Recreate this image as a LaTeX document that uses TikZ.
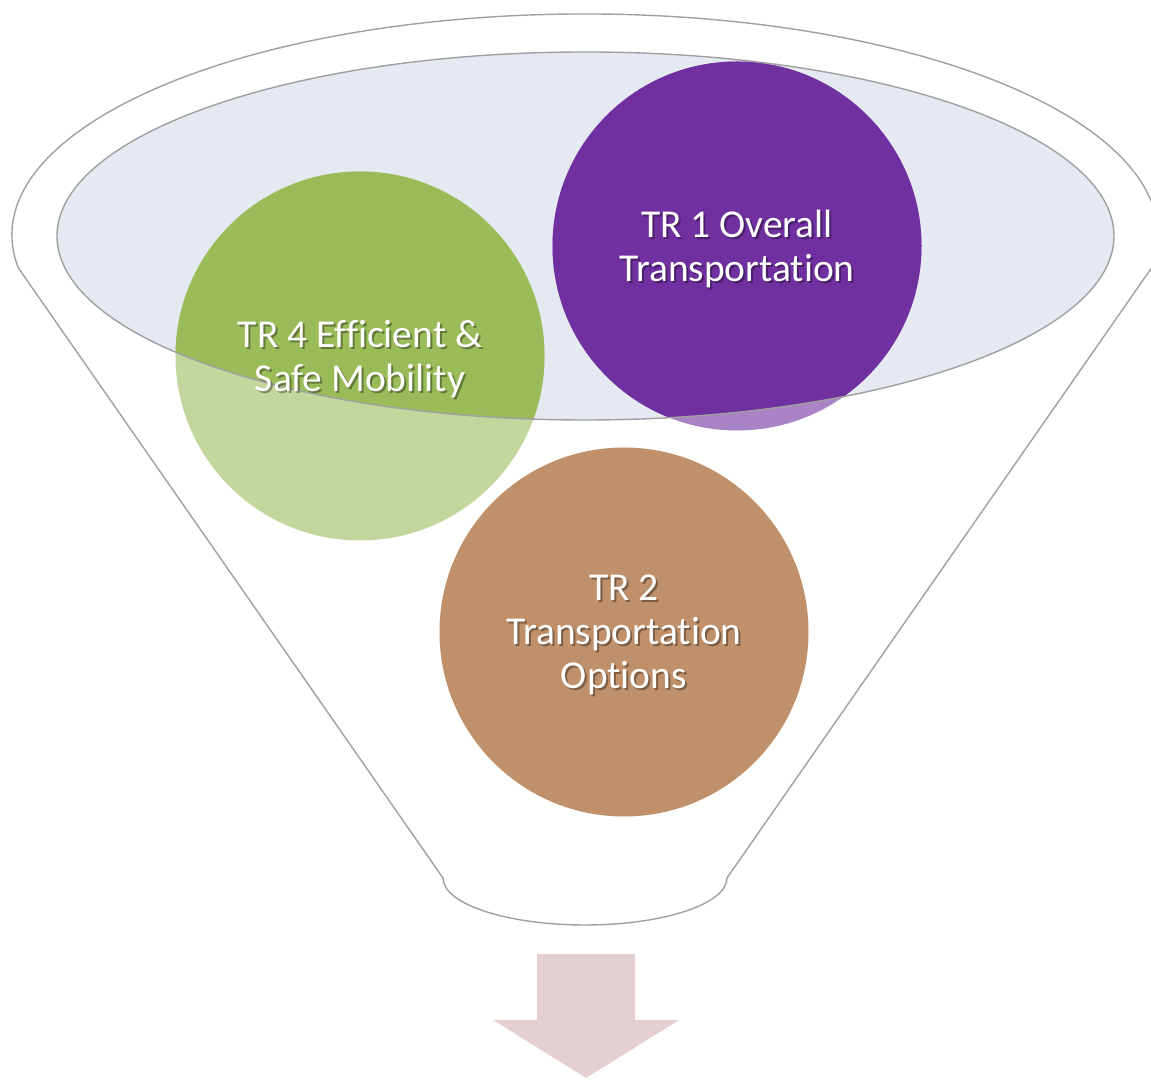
\documentclass[tikz,border=0pt]{standalone}
\usepackage{fontspec}
\setmainfont[Ligatures={NoCommon}]{Carlito}
\definecolor{fgreen}{RGB}{155,187,89}
\definecolor{fpurple}{RGB}{112,48,160}
\definecolor{fbrown}{RGB}{192,144,106}
\definecolor{fbowl}{RGB}{228,233,242}
\definecolor{fline}{RGB}{160,160,160}
\definecolor{farrow}{RGB}{230,207,208}
\begin{document}
\begin{tikzpicture}[x=1pt,y=1pt,
  ball/.style={circle, minimum size=369pt, inner sep=0pt, draw=none},
  txt/.style={text=white, align=center, inner sep=0pt, font=\fontsize{39.5}{44}\selectfont},
  txtshadow/.style={text=black, text opacity=0.35, align=center, inner sep=0pt, font=\fontsize{39.5}{44}\selectfont},
  outline/.style={draw=fline, line width=1.4pt}]
\useasboundingbox (0,0) rectangle (1151,1081);
% funnel outline
\draw[outline] (18.4,813) arc[start angle=188.6, end angle=-8.6, x radius=573, y radius=221]
  -- (727,203) arc[start angle=0, end angle=-180, x radius=142, y radius=47] -- cycle;
% bowl
\coordinate (bowlc) at (585.5,845);
\fill[fbowl] (bowlc) ellipse[x radius=528.5, y radius=184];
% circles (light parts outside the bowl)
\node[ball, fill=fgreen!60] (c4) at (360,725) {};
\node[ball, fill=fpurple!60] (c1) at (737,835) {};
\node[ball, fill=fbrown] (c2) at (624,449) {};
\begin{scope}
  \clip (bowlc) ellipse[x radius=528.5, y radius=184];
  \fill[fgreen] (c4.center) circle[radius=184.5];
  \fill[fpurple] (c1.center) circle[radius=184.5];
\end{scope}
\draw[outline] (bowlc) ellipse[x radius=528.5, y radius=184];
% arrow
\fill[farrow] (537,127) -- (635,127) -- (635,61) -- (679,61) -- (586,3) -- (493,61) -- (537,61) -- cycle;
% labels
\node[txtshadow] at ([shift={(2,-5)}]c4.center) {TR 4 Efficient \&\\Safe Mobility};
\node[txt] (t4) at ([shift={(0,-3)}]c4.center) {TR 4 Efficient \&\\Safe Mobility};
\node[txtshadow] at ([shift={(2,-5)}]c1.center) {TR 1 Overall\\Transportation};
\node[txt] (t1) at ([shift={(0,-3)}]c1.center) {TR 1 Overall\\Transportation};
\node[txtshadow] at ([shift={(2,-5)}]c2.center) {TR 2\\Transportation\\Options};
\node[txt] (t2) at ([shift={(0,-3)}]c2.center) {TR 2\\Transportation\\Options};
\end{tikzpicture}
\end{document}
